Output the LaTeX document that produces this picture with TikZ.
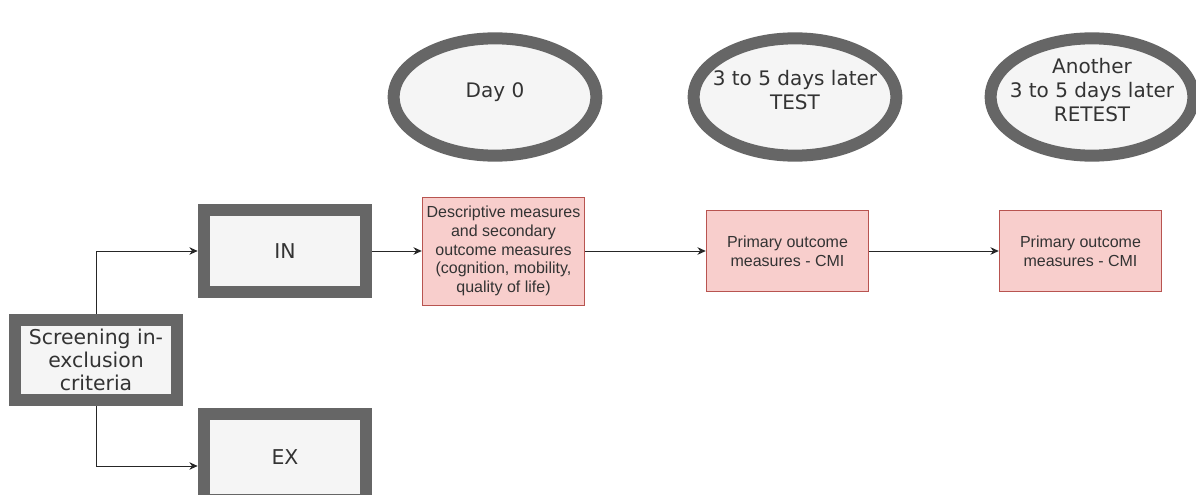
\documentclass[tikz,border=0pt]{standalone}
\usepackage{fontspec}
\setmainfont{Liberation Sans}
\newfontfamily\verdanalike{DejaVu Sans}
\usepackage{tikz}
\usetikzlibrary{arrows.meta, positioning, shapes.geometric}
\definecolor{frame}{RGB}{102, 102, 102}
\definecolor{paper}{RGB}{245, 245, 245}
\definecolor{pinkfill}{RGB}{248, 206, 204}
\definecolor{pinkline}{RGB}{184, 84, 80}
\definecolor{inktext}{RGB}{51, 51, 51}

\begin{document}
\begin{tikzpicture}[
			x=0.75pt, y=-0.75pt,
			phase/.style={ellipse, draw=frame, fill=paper, line width=9pt, minimum width=152pt, minimum height=88pt, inner xsep=-12pt, inner ysep=0pt, text depth=10pt, align=center, text=inktext, font=\verdanalike\fontsize{15}{18}\selectfont},
			group/.style={rectangle, draw=frame, fill=paper, line width=9pt, minimum width=122pt, minimum height=61pt, inner sep=0pt, align=center, text=inktext, font=\verdanalike\fontsize{15.3}{17.5}\selectfont},
			measure/.style={rectangle, draw=pinkline, fill=pinkfill, line width=0.6pt, minimum width=122pt, minimum height=61pt, inner sep=1pt, align=center, text=inktext, font=\fontsize{12}{14}\selectfont},
			arrow/.style={-{Stealth[length=2.2mm, width=2mm]}, line width=0.7pt, draw=black!85}
		]
		\clip (0,0) rectangle (1196,495);
		
		% Time points
		\node[phase] (day) at (495,97) {Day 0};
		\node[phase] (test) at (795,97) {3 to 5 days later\\TEST};
		\node[phase] (retest) at (1092,97) {Another\\3 to 5 days later\\RETEST};
		
		% Screening and groups
		\node[group, minimum height=60pt] (screen) at (96,360) {Screening in-\\exclusion\\criteria};
		\node[group] (in) at (285,251) {IN};
		\node[group, minimum height=64pt] (ex) at (285,457) {EX};
		
		% Measures
		\node[measure, minimum height=81pt] (desc) at (503.5,251) {Descriptive measures\\and secondary\\outcome measures\\(cognition, mobility,\\quality of life)};
		\node[measure] (prim) at (787.5,251) {Primary outcome\\measures - CMI};
		\node[measure] (primre) at (1080.5,251) {Primary outcome\\measures - CMI};
		
		\draw[arrow] (screen.north) |- (in.west);
		\draw[arrow] (screen.south) |- ([yshift=-6.75pt]ex.west);
		\draw[arrow] (in) -- (desc);
		\draw[arrow] (desc) -- (prim);
		\draw[arrow] (prim) -- (primre);
		\end{tikzpicture}
\end{document}
